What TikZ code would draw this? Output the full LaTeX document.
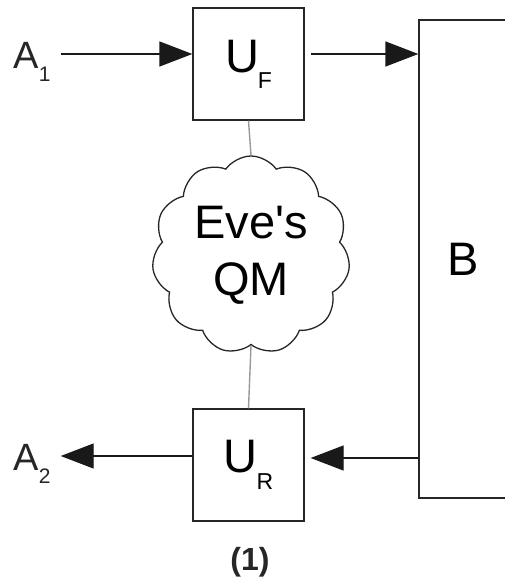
\documentclass[tikz,border=0pt]{standalone}
\usepackage{fontspec}
\setmainfont{Liberation Sans}[Ligatures=TeXOff]
\usetikzlibrary{arrows.meta, shapes.symbols}

\newcommand{\bigfont}{\fontsize{47}{57}\selectfont}
\newcommand{\lowsub}[3]{\raisebox{#1}{\fontsize{#2}{#2}\selectfont #3}}

\begin{document}
\begin{tikzpicture}[x=1pt, y=-1pt,
    ubox/.style={draw=black!85, line width=1.3pt, minimum width=111pt,
        minimum height=112pt, inner sep=0pt, font=\bigfont},
    lbl/.style={inner sep=0pt, font=\fontsize{38}{38}\selectfont, text=black!85},
    flow/.style={line width=1.3pt, draw=black!90,
        -{Triangle[length=33pt, width=25pt]}},
    link/.style={line width=1.4pt, draw=black!40}]
    \useasboundingbox (0,0) rectangle (505,586);
    % boxes
    \node[ubox] (uf) at (248.5,64) {U\kern-1pt\lowsub{-16pt}{23}{F}};
    \node[ubox] (ur) at (248.5,465) {U\kern-1pt\lowsub{-17pt}{23}{R}};
    \node[ubox, minimum width=88pt, minimum height=478pt] (b) at (463,259) {B};
    \node[cloud, draw=black!85, line width=1.3pt, cloud puffs=11, cloud puff arc=110,
        minimum width=198pt, minimum height=198pt, inner sep=0pt,
        align=center, font=\bigfont] (qm) at (251,255) {Eve's\\QM};
    % outside labels
    \node[lbl] (a1) at (32,62) {A\lowsub{-13pt}{21}{1}};
    \node[lbl] (a2) at (32,464) {A\lowsub{-13pt}{21}{2}};
    \node[font=\bfseries\fontsize{32}{32}\selectfont, text=black!85] (num) at (250,562) {(1)};
    % arrow ends
    \coordinate (ufin) at ([yshift=10pt]uf.west);
    \coordinate (ufout) at ([xshift=6pt, yshift=10pt]uf.east);
    \coordinate (urin) at ([xshift=6pt, yshift=7pt]ur.east);
    \coordinate (urout) at ([yshift=9pt]ur.west);
    % signal flow
    \draw[flow] (a1.east |- ufin) ++(10,0) -- (ufin);
    \draw[flow] (ufout) -- (ufout -| b.west);
    \draw[flow] (urin -| b.west) -- (urin);
    \draw[flow] (urout) -- ([xshift=10pt]a2.east |- urout);
    % links to the cloud
    \draw[link] (uf.south) -- (qm.north);
    \draw[link] (qm.south) -- (ur.north);
\end{tikzpicture}
\end{document}
